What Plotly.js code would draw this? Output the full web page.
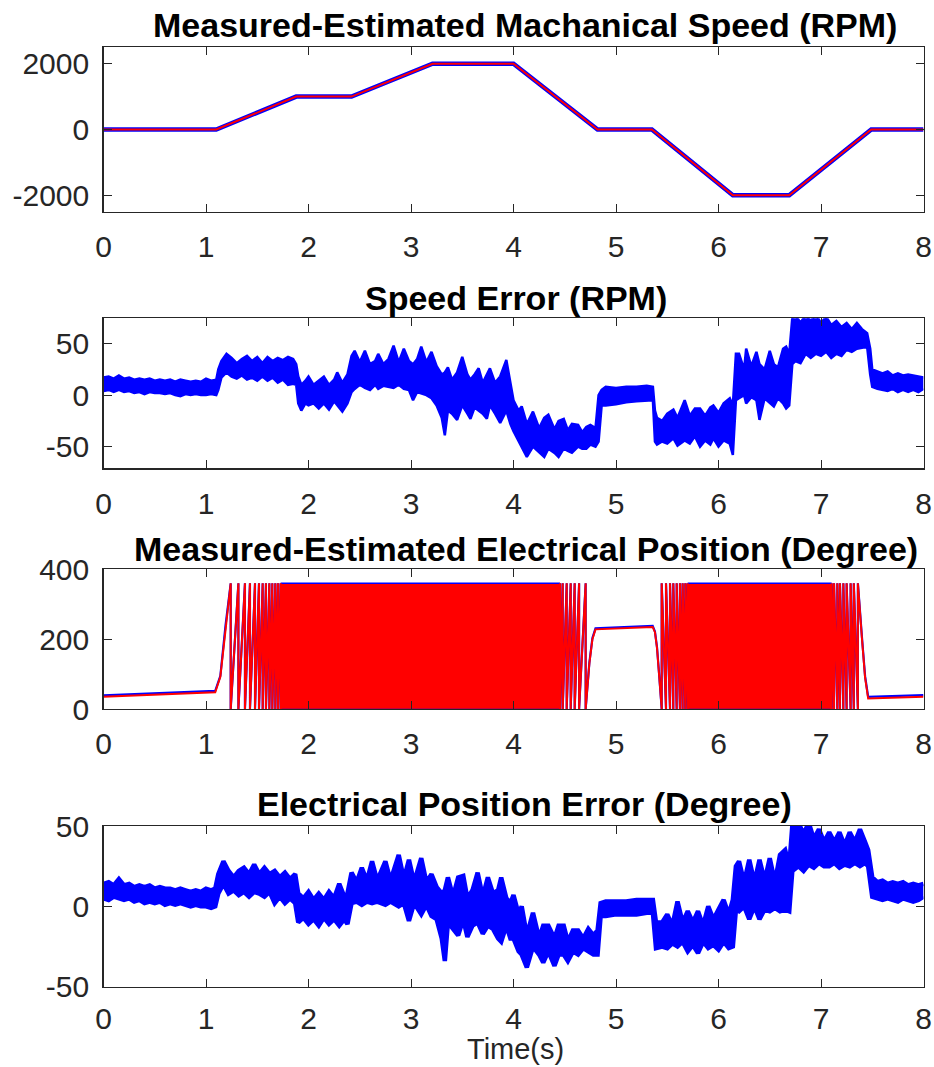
<!DOCTYPE html>
<html><head><meta charset="utf-8">
<script src="https://cdn.plot.ly/plotly-3.0.1.min.js"></script>
<style>html,body{margin:0;padding:0;background:#fff;} #chart{width:934px;height:1067px;}</style>
</head><body><div id="chart"></div>
<script>
// ---------- Panel 1: mechanical speed (RPM) ----------
const speedTime = [0, 1.1, 1.88, 2.42, 3.21, 4.0, 4.82, 5.35, 6.14, 6.69, 7.49, 8];
const speedValue = [0, 0, 1000, 1000, 2000, 2000, 0, 0, -2000, -2000, 0, 0];
const speedTicks = [-2000, 0, 2000];

// ---------- Panel 2: speed error (RPM), band envelope ----------
const errTime = [
  0,0.05,0.1,0.15,0.2,0.25,0.3,0.35,0.4,0.45,0.5,0.55,0.6,0.65,0.7,0.75,0.8,0.85,0.9,0.95,1.0,1.05,1.1,
  1.12,1.15,1.2,1.25,1.3,1.35,1.4,1.45,1.5,1.55,1.6,1.65,1.7,1.75,1.8,1.85,1.88,
  1.9,1.93,1.97,2.0,2.05,2.1,2.15,2.2,2.25,2.28,2.33,2.38,
  2.42,2.45,2.5,2.55,2.6,2.65,2.68,2.73,2.78,2.83,2.88,2.93,2.98,3.02,3.06,3.1,3.15,3.2,
  3.25,3.3,3.33,3.36,3.4,3.45,3.5,3.55,3.58,3.62,3.66,3.7,3.74,3.77,3.82,3.87,3.93,3.97,
  4.0,4.05,4.08,4.13,4.19,4.25,4.3,4.34,4.4,4.44,4.49,4.53,4.57,4.63,4.67,4.71,4.75,4.8,
  4.83,4.86,4.9,5.0,5.1,5.2,5.3,5.36,
  5.38,5.4,5.45,5.5,5.56,5.6,5.67,5.72,5.77,5.82,5.87,5.92,5.95,6.0,6.05,6.11,6.14,
  6.17,6.2,6.25,6.27,6.32,6.37,6.4,6.45,6.5,6.54,6.58,6.63,6.66,6.69,
  6.72,6.75,6.8,6.85,6.9,6.95,7.0,7.05,7.1,7.15,7.2,7.25,7.3,7.35,7.4,7.45,
  7.48,7.5,7.55,7.6,7.65,7.7,7.75,7.8,7.85,7.9,7.95,8.0
];
const errUpper = [
  17,18,16,19,16,17,15,16,15,16,14,15,14,15,13,15,14,13,14,13,16,14,15,
  25,33,40,36,31,35,38,33,37,31,37,33,36,34,37,35,30,
  18,10,14,18,10,14,18,10,15,22,12,20,
  38,43,32,43,30,33,40,30,35,48,32,45,33,30,35,47,32,42,
  28,20,22,27,15,22,37,20,15,20,26,12,20,26,12,18,34,10,
  -5,-15,-11,-28,-16,-32,-22,-19,-33,-25,-23,-34,-28,-29,-36,-31,-29,-32,
  0,5,8,7,8,8,9,8,
  -15,-22,-25,-18,-14,-22,-5,-20,-13,-13,-20,-12,-10,-17,-8,-3,-10,
  40,40,25,45,28,42,30,25,43,30,27,45,47,40,
  75,78,70,78,72,78,70,76,68,72,66,70,64,70,64,60,
  45,25,23,21,23,19,21,19,20,19,18,17
];
const errLower = [
  4,5,3,5,3,4,2,3,1,3,2,2,1,2,0,-1,1,0,1,0,0,1,0,
  5,17,22,18,16,19,15,17,14,18,14,17,12,15,10,11,10,
  -8,-15,-8,-10,-8,-13,-8,-14,-6,-10,-16,-8,
  3,6,10,7,5,10,6,9,8,7,10,6,5,-5,3,2,0,-3,
  -10,-22,-39,-15,-18,-24,-10,-18,-23,-12,-15,-18,-23,-10,-18,-27,-15,-28,
  -35,-45,-50,-60,-50,-55,-60,-52,-56,-60,-52,-54,-56,-50,-52,-52,-48,-50,
  -45,-10,-10,-9,-7,-6,-5,-5,
  -45,-48,-45,-47,-42,-49,-44,-47,-40,-50,-44,-48,-42,-50,-44,-47,-58,
  -5,-3,0,-8,-2,-5,-24,-3,-8,-11,-3,-8,-13,-10,
  30,33,31,40,36,40,38,42,36,40,38,44,42,45,46,47,
  20,8,6,5,4,6,3,5,3,5,3,6
];
const errTicks = [-50, 0, 50];

// ---------- Panel 3: electrical position (degree) ----------
// non-wrapping stretches
const posA_Time = [0, 1.09, 1.14, 1.19, 1.241];
const posA_Est  = [35, 48, 92, 235, 360];
const posA_Meas = [39, 52, 95, 238, 360];
const posB_Time = [4.704, 4.74, 4.77, 4.80, 5.0, 5.358, 5.38, 5.40, 5.42, 5.446];
const posB_Est  = [0, 130, 200, 228, 231, 235, 220, 175, 100, 0];
const posB_Meas = [0, 132, 203, 231, 234, 238, 222, 177, 102, 0];
const posC_Time = [7.36, 7.40, 7.43, 7.46, 8.0];
const posC_Est  = [360, 200, 90, 30, 35];
const posC_Meas = [360, 204, 94, 35, 40];
// visible 360->0 wrap instants (positive speed) and 0->360 wraps (negative speed)
const wrapUp1 = [1.241, 1.316, 1.380, 1.429, 1.478, 1.517, 1.553, 1.585, 1.618, 1.647, 1.676, 1.702, 1.728];
const wrapUp2 = [4.454, 4.480, 4.519, 4.558, 4.597, 4.640, 4.704];
const wrapDown1 = [5.446, 5.488, 5.527, 5.559, 5.592, 5.624, 5.650, 5.676, 5.699];
const wrapDown2 = [7.104, 7.127, 7.159, 7.185, 7.218, 7.250, 7.289, 7.32, 7.36];
// spans where the wraps are too dense to separate
const denseStart = [1.728, 5.699];
const denseEnd = [4.454, 7.104];
const posTicks = [0, 200, 400];

// ---------- Panel 4: electrical position error (degree) ----------
const peTime = [
  0,0.05,0.1,0.15,0.2,0.25,0.3,0.35,0.4,0.45,0.5,0.55,0.6,0.65,0.7,0.75,0.8,0.85,0.9,0.95,1.0,1.05,1.09,
  1.12,1.17,1.22,1.27,1.32,1.37,1.42,1.47,1.52,1.57,1.62,1.67,1.72,1.77,1.82,1.87,
  1.9,1.95,2.0,2.05,2.1,2.15,2.2,2.25,2.3,2.35,2.38,
  2.42,2.47,2.52,2.57,2.62,2.67,2.75,2.8,2.88,2.93,2.98,3.03,3.1,3.15,3.2,
  3.25,3.3,3.33,3.36,3.41,3.46,3.51,3.55,3.6,3.65,3.7,3.75,3.8,3.85,3.88,3.93,3.97,
  4.0,4.05,4.08,4.13,4.19,4.25,4.29,4.34,4.4,4.44,4.49,4.53,4.58,4.63,4.68,4.73,4.78,4.82,
  4.85,4.9,5.0,5.1,5.2,5.3,5.36,
  5.39,5.45,5.5,5.55,5.6,5.65,5.7,5.75,5.8,5.85,5.9,5.95,6.0,6.05,6.1,6.14,
  6.17,6.2,6.25,6.3,6.35,6.4,6.45,6.5,6.55,6.6,6.65,6.69,
  6.72,6.78,6.83,6.88,6.93,6.98,7.03,7.08,7.13,7.18,7.23,7.28,7.33,7.38,7.43,7.46,
  7.5,7.55,7.6,7.65,7.7,7.75,7.8,7.85,7.9,7.95,8.0
];
const peUpper = [
  14,15,13,17,13,14,12,13,12,13,11,12,11,11,10,11,10,9,10,9,11,10,11,
  20,28,22,18,22,24,20,26,20,24,20,22,18,21,17,20,
  8,5,9,4,8,4,9,5,14,6,8,
  21,15,24,16,28,16,28,16,32,17,29,15,30,15,20,
  12,8,10,18,6,18,19,5,10,21,6,18,8,10,18,5,2,
  7,-5,0,-18,-4,-20,-12,-12,-20,-12,-12,-22,-15,-15,-20,-14,-18,-15,
  2,3,3,3,4,4,4,
  -10,-10,-5,-12,3,-10,-3,-10,-3,-12,0,-8,-2,4,-5,4,
  25,28,15,29,15,29,16,30,15,32,35,25,
  50,52,45,52,42,48,40,46,40,46,38,46,40,48,40,35,
  18,15,16,14,15,14,15,13,14,13,14
];
const peLower = [
  5,4,6,5,4,5,3,4,2,3,2,3,1,2,1,2,1,0,1,0,0,-1,0,
  8,14,8,10,7,9,6,9,8,6,9,2,6,2,5,2,
  -10,-7,-11,-8,-12,-7,-11,-8,-12,-8,-11,
  2,3,1,3,2,3,1,3,0,2,-9,2,-5,1,-6,
  -8,-20,-34,-10,-14,-18,-8,-19,-12,-10,-17,-12,-14,-20,-22,-12,-20,
  -20,-28,-30,-38,-25,-30,-35,-28,-37,-30,-30,-34,-28,-30,-26,-28,-30,-30,
  -6,-6,-5,-5,-5,-4,-4,
  -26,-25,-26,-23,-25,-22,-28,-24,-29,-22,-26,-24,-27,-22,-26,-25,
  -2,-3,0,-8,0,-8,-2,-3,-1,-3,-2,-3,
  22,25,22,26,24,27,25,25,27,24,26,25,27,25,27,25,
  6,5,4,5,4,3,5,4,3,4,6
];
const peTicks = [-50, 0, 50];
const timeTicks = [0,1,2,3,4,5,6,7,8];

// ---------- build ----------
const BLUE = 'rgb(0,0,255)', RED = 'rgb(255,0,0)', AX = '#262626';
const FONT = 'Liberation Sans, Arial, Helvetica, sans-serif';

function sawUp(times){ const x=[],y=[]; times.forEach(t=>{x.push(t,t); y.push(360,0);}); return {x,y}; }
function sawDown(times){ const x=[],y=[]; times.forEach(t=>{x.push(t,t); y.push(0,360);}); return {x,y}; }
function positionPath(A, B, C){
  const u1=sawUp(wrapUp1), u2=sawUp(wrapUp2), d1=sawDown(wrapDown1), d2=sawDown(wrapDown2);
  const x=[].concat(posA_Time, u1.x, [null], u2.x, posB_Time, d1.x, [null], d2.x, posC_Time);
  const y=[].concat(A, u1.y, [null], u2.y, B, d1.y, [null], d2.y, C);
  return {x,y};
}
const traces = [];
// panel 1
traces.push({x:speedTime, y:speedValue, mode:'lines', line:{color:BLUE,width:4.5}, xaxis:'x', yaxis:'y', hoverinfo:'skip'});
traces.push({x:speedTime, y:speedValue, mode:'lines', line:{color:RED,width:2}, xaxis:'x', yaxis:'y', hoverinfo:'skip'});
// panel 2
traces.push({x:errTime, y:errLower, mode:'lines', line:{color:BLUE,width:2.5}, xaxis:'x2', yaxis:'y2', hoverinfo:'skip'});
traces.push({x:errTime, y:errUpper, mode:'lines', fill:'tonexty', fillcolor:BLUE, line:{color:BLUE,width:2.5}, xaxis:'x2', yaxis:'y2', hoverinfo:'skip'});
// panel 3
for (let i=0;i<denseStart.length;i++){
  traces.push({x:[denseStart[i],denseEnd[i],denseEnd[i],denseStart[i],denseStart[i]], y:[-2,-2,362,362,-2],
    mode:'lines', fill:'toself', fillcolor:BLUE, line:{color:BLUE,width:0}, xaxis:'x3', yaxis:'y3', hoverinfo:'skip'});
}
const pm = positionPath(posA_Meas, posB_Meas, posC_Meas);
traces.push({x:pm.x, y:pm.y, mode:'lines', connectgaps:false, line:{color:BLUE,width:2.2}, xaxis:'x3', yaxis:'y3', hoverinfo:'skip'});
for (let i=0;i<denseStart.length;i++){
  traces.push({x:[denseStart[i],denseEnd[i],denseEnd[i],denseStart[i],denseStart[i]], y:[1,1,358,358,1],
    mode:'lines', fill:'toself', fillcolor:RED, line:{color:RED,width:0}, xaxis:'x3', yaxis:'y3', hoverinfo:'skip'});
}
const pe = positionPath(posA_Est, posB_Est, posC_Est);
traces.push({x:pe.x, y:pe.y, mode:'lines', connectgaps:false, line:{color:RED,width:2}, xaxis:'x3', yaxis:'y3', hoverinfo:'skip'});
// panel 4
traces.push({x:peTime, y:peLower, mode:'lines', line:{color:BLUE,width:4.5}, xaxis:'x4', yaxis:'y4', hoverinfo:'skip'});
traces.push({x:peTime, y:peUpper, mode:'lines', fill:'tonexty', fillcolor:BLUE, line:{color:BLUE,width:4.5}, xaxis:'x4', yaxis:'y4', hoverinfo:'skip'});

const XD = [103.5/934, 923.5/934];
function yd(top, bot){ return [1-bot/1067, 1-top/1067]; }
const TICKFONT = {family:FONT,size:30,color:AX};
function xAxis(anchor, standoff){
  return {domain:XD, range:[0,8], anchor:anchor, tickvals:timeTicks, ticktext:timeTicks.map(String),
    ticks:'inside', ticklen:8, tickwidth:1, tickcolor:AX, showline:true, linecolor:AX, linewidth:1.3, mirror:'ticks',
    showgrid:false, zeroline:false, tickfont:TICKFONT, ticklabelstandoff:standoff, fixedrange:true};
}
function yAxis(anchor, domain, range, ticks){
  return {domain:domain, range:range, anchor:anchor, tickvals:ticks, ticktext:ticks.map(String),
    ticks:'inside', ticklen:8, tickwidth:1, tickcolor:AX, showline:true, linecolor:AX, linewidth:1.3, mirror:'ticks',
    showgrid:false, zeroline:false, tickfont:TICKFONT, ticklabelstandoff:7, fixedrange:true};
}
function title(text, xpix, ypix, size){
  return {text:'<b>'+text+'</b>', x:xpix/934, y:1-ypix/1067, xref:'paper', yref:'paper', xanchor:'center', yanchor:'middle',
    showarrow:false, font:{family:FONT,size:size,color:'#000'}};
}
const layout = {
  width:934, height:1067, margin:{l:0,r:0,t:0,b:0}, paper_bgcolor:'#fff', plot_bgcolor:'#fff', showlegend:false,
  xaxis: xAxis('y', 8), yaxis: yAxis('x', yd(47.3,211.7), [-2500,2500], speedTicks),
  xaxis2: xAxis('y2', 8), yaxis2: yAxis('x2', yd(318.3,468.3), [-71,74.5], errTicks),
  xaxis3: xAxis('y3', 8), yaxis3: yAxis('x3', yd(569.3,709), [0,400], posTicks),
  xaxis4: xAxis('y4', 5), yaxis4: yAxis('x4', yd(826,986.7), [-50,50], peTicks),
  annotations:[
    title('Measured-Estimated Machanical Speed (RPM)', 524.5, 25, 34),
    title('Speed Error (RPM)', 516, 298, 34),
    title('Measured-Estimated Electrical Position (Degree)', 525.5, 549, 34),
    title('Electrical Position Error (Degree)', 524.5, 804, 34),
    {text:'Time(s)', x:515/934, y:0.0005, xref:'paper', yref:'paper', xanchor:'center', yanchor:'bottom', showarrow:false,
     borderpad:0, font:{family:FONT,size:29,color:AX}}
  ]
};
Plotly.newPlot('chart', traces, layout, {staticPlot:true, displayModeBar:false});
</script></body></html>
